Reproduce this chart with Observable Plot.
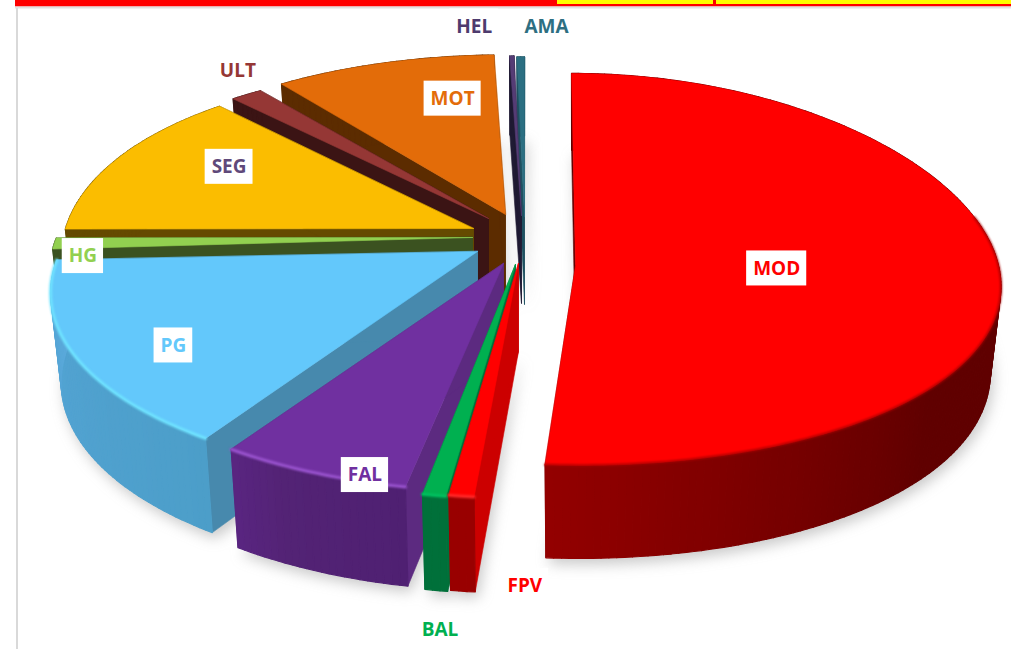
<!DOCTYPE html>
<html><head><meta charset="utf-8">
<style>html,body{margin:0;padding:0;background:#fff}svg{display:block}</style>
<script src="https://cdn.jsdelivr.net/npm/d3@7"></script>
<script src="https://cdn.jsdelivr.net/npm/@observablehq/plot@0.6"></script>
</head><body><div id="chart"></div>
<script>
// data: share of each slice, clockwise from twelve o'clock
const names  = ["MOD","FPV","BAL","FAL","PG","HG","SEG","ULT","MOT","HEL","AMA"];
const values = [51.4,0.8,0.75,6.3,15.05,0.65,12.8,1.4,10.3,0.2,0.35];
// styles
const topColors  = ["#ff0000","#ff0000","#00b050","#7030a0","#63c8fb","#92d050","#fbbd00","#953735","#e36c09","#553c75","#2b6f82"];
const textColors = ["#ff0000","#ff0000","#00b050","#7030a0","#63c8fb","#92d050","#5f497a","#953735","#e36c09","#4e3b6e","#2e6f82"];
const sideColors = ["#5e0000","#cc0000","#00703a","#5c2a80","#4789ad","#3b5220","#654a00","#3b1414","#5c2c00","#1f1a33","#1e5060"];
const arcColors  = [["#600000","#600000","#930000"],["#990000","#990000","#990000"],["#00703a","#00703a","#00703a"],
  ["#4f2072","#532375","#592580"],["#4c9ec9","#52a3d2","#5aa9db"],["#3b5220","#3b5220","#3b5220"],["#654a00","#654a00","#654a00"],
  ["#3b1414","#3b1414","#3b1414"],["#5c2c00","#5c2c00","#5c2c00"],["#1f1a33","#1f1a33","#1f1a33"],["#1e5060","#1e5060","#1e5060"]];
const rimColors  = ["#a80000","#ff2a2a","#00c060","#9b55d0","#70e4ff",null,null,null,null,null,null];
// layout of the exploded 3-D pie
const centre = [510,240];
const explodeX = [65,8,5,-7,-33,-38,-37,-22,-5,11,14];
const explodeY = [25,23,24,23,11,-3,-12,-22,-26,-25,-24];
const radiusX  = [423,425,425,425,417,416,408,425,417,425,425];
const radiusY  = [196,197,197,192,193,197,197,193,197,197,197];
const perspX   = [0.1,0.19,0.19,0.2,0.225,0.19,0.146,0.19,0.19,0.19,0.19];
const perspY   = [0.02,0.19,0.19,0.19,0.19,0.19,0.19,0.19,0.19,0.19,0.19];
const shearX   = [4,0,0,0,0,0,0,0,0,0,0];
const wallH    = [85,88,88,92,88,88,88,88,88,88,88];
const trimStart= [0,0,0,0.5,0,-0.8,0,0,0,0,0];
const trimEnd  = [0.8,0,0,0,0,0,0,0,0,0,0];
const labelR    = [0.475,1.31,1.46,0.975,0.80,0.925,0.713,1.175,0.69,1.27,1.27];
const labelTurn = [-0.7,-7,-3.8,-5.6,-4.5,-4.4,5.1,4,8.35,-5.0,3.7];
const paintOrder = [10,9,8,7,6,5,4,0,3,2,1];
const headerCells = [
  {x1:15,x2:1011,y1:0,y2:6.5,c:"#ff0000"},
  {x1:557,x2:713,y1:0,y2:4,c:"#ffff00"},
  {x1:716,x2:1011,y1:0,y2:4,c:"#ffff00"},
  {x1:15,x2:1011,y1:6.5,y2:8.5,c:"#e2e2e2"},
  {x1:16,x2:18,y1:8,y2:649,c:"#d9d9d9"}
];

// pie layout from the values
const total = d3.sum(values);
let acc = 0;
const slices = names.map((name,i)=>{
  const start = acc/total*360; acc += values[i]; const end = acc/total*360;
  return {i,name,mid:(start+end)/2,a0:start+trimStart[i],a1:end-trimEnd[i],ax:centre[0]+explodeX[i],ay:centre[1]+explodeY[i]};
});
const rad = d=>d*Math.PI/180;
function topPt(s,a,r=1){
  const u=Math.sin(rad(a))*r, v=-Math.cos(rad(a))*r;
  return {x:s.ax+radiusX[s.i]*u*(1+perspX[s.i]*v)+shearX[s.i]*v, y:s.ay+radiusY[s.i]*v*(1+perspY[s.i]*v), v};
}
function bottomPt(s,a,r=1){
  const p=topPt(s,a,r);
  return {x:s.ax+(p.x-s.ax)*0.975, y:s.ay+(p.y-s.ay)*0.975+wallH[s.i]+13*p.v};
}
const apexBottom = s=>({x:s.ax,y:s.ay+wallH[s.i]});
const arcAngles = s=>{const n=Math.max(2,Math.ceil(s.a1-s.a0));return d3.range(n+1).map(k=>s.a0+(s.a1-s.a0)*k/n);};
const poly=(pts,id,c)=>pts.map(p=>({x:p.x,y:p.y,id,c}));

const fillMark=(rows,sw=0.6)=>Plot.line(rows,{x:"x",y:"y",z:"id",fill:"c",stroke:"c",strokeWidth:sw,curve:"linear-closed"});

const shadowRows = slices.flatMap(s=>poly([apexBottom(s),...arcAngles(s).map(a=>bottomPt(s,a))].map(p=>({x:p.x+3,y:p.y+6})),"sh"+s.i,"#777"));
const pieMarks = paintOrder.flatMap(i=>{
  const s=slices[i], as=arcAngles(s);
  const shade=d3.scaleLinear().domain([0,0.7,1]).range(arcColors[i]);
  const sides=[
    ...poly([topPt(s,s.a0),bottomPt(s,s.a0),apexBottom(s),{x:s.ax,y:s.ay}],"r0",sideColors[i]),
    ...poly([topPt(s,s.a1),bottomPt(s,s.a1),apexBottom(s),{x:s.ax,y:s.ay}],"r1",sideColors[i])
  ];
  const strips=as.slice(1).flatMap((a,k)=>poly([topPt(s,as[k]),topPt(s,a),bottomPt(s,a),bottomPt(s,as[k])],"a"+k,shade((a-s.a0)/(s.a1-s.a0))));
  const face=poly([{x:s.ax,y:s.ay},...as.map(a=>topPt(s,a))],"top",topColors[i]);
  const marks=[fillMark(sides),fillMark(strips,1.2),fillMark(face)];
  if(rimColors[i]){
    const span=as.filter(a=>i===0?a>75:true);
    marks.push(Plot.line(span.map(a=>topPt(s,a)),{x:"x",y:"y",stroke:rimColors[i],strokeWidth:i===0?2:3,imageFilter:"blur(1px)"}));
  }
  return marks;
});

// labels
const canvas=document.createElement("canvas").getContext("2d");
canvas.font="bold 19px 'Open Sans'";
const labels=slices.map(s=>{
  const p=topPt(s,s.mid+labelTurn[s.i],labelR[s.i]);
  const w=canvas.measureText(s.name).width+13;
  return {name:s.name,x:p.x,y:p.y,x1:p.x-w/2,x2:p.x+w/2,y1:p.y-17.5,y2:p.y+17.5,c:textColors[s.i]};
});

const chart=Plot.plot({
  width:1011,height:649,margin:0,
  x:{axis:null,domain:[0,1011],range:[0,1011]},
  y:{axis:null,domain:[0,649],range:[0,649]},
  marks:[
    Plot.rect(headerCells,{x1:"x1",x2:"x2",y1:"y1",y2:"y2",fill:"c",inset:0}),
    Plot.line(shadowRows,{x:"x",y:"y",z:"id",fill:"c",stroke:"none",fillOpacity:0.4,curve:"linear-closed",imageFilter:"blur(7px)"}),
    ...pieMarks,
    Plot.rect(labels,{x1:"x1",x2:"x2",y1:"y1",y2:"y2",fill:"#fff"}),
    Plot.text(labels,{x:"x",y:"y",text:"name",fill:"c",fontSize:19,fontWeight:"bold",fontFamily:"Open Sans"})
  ]
});
document.getElementById("chart").append(chart);
</script></body></html>
